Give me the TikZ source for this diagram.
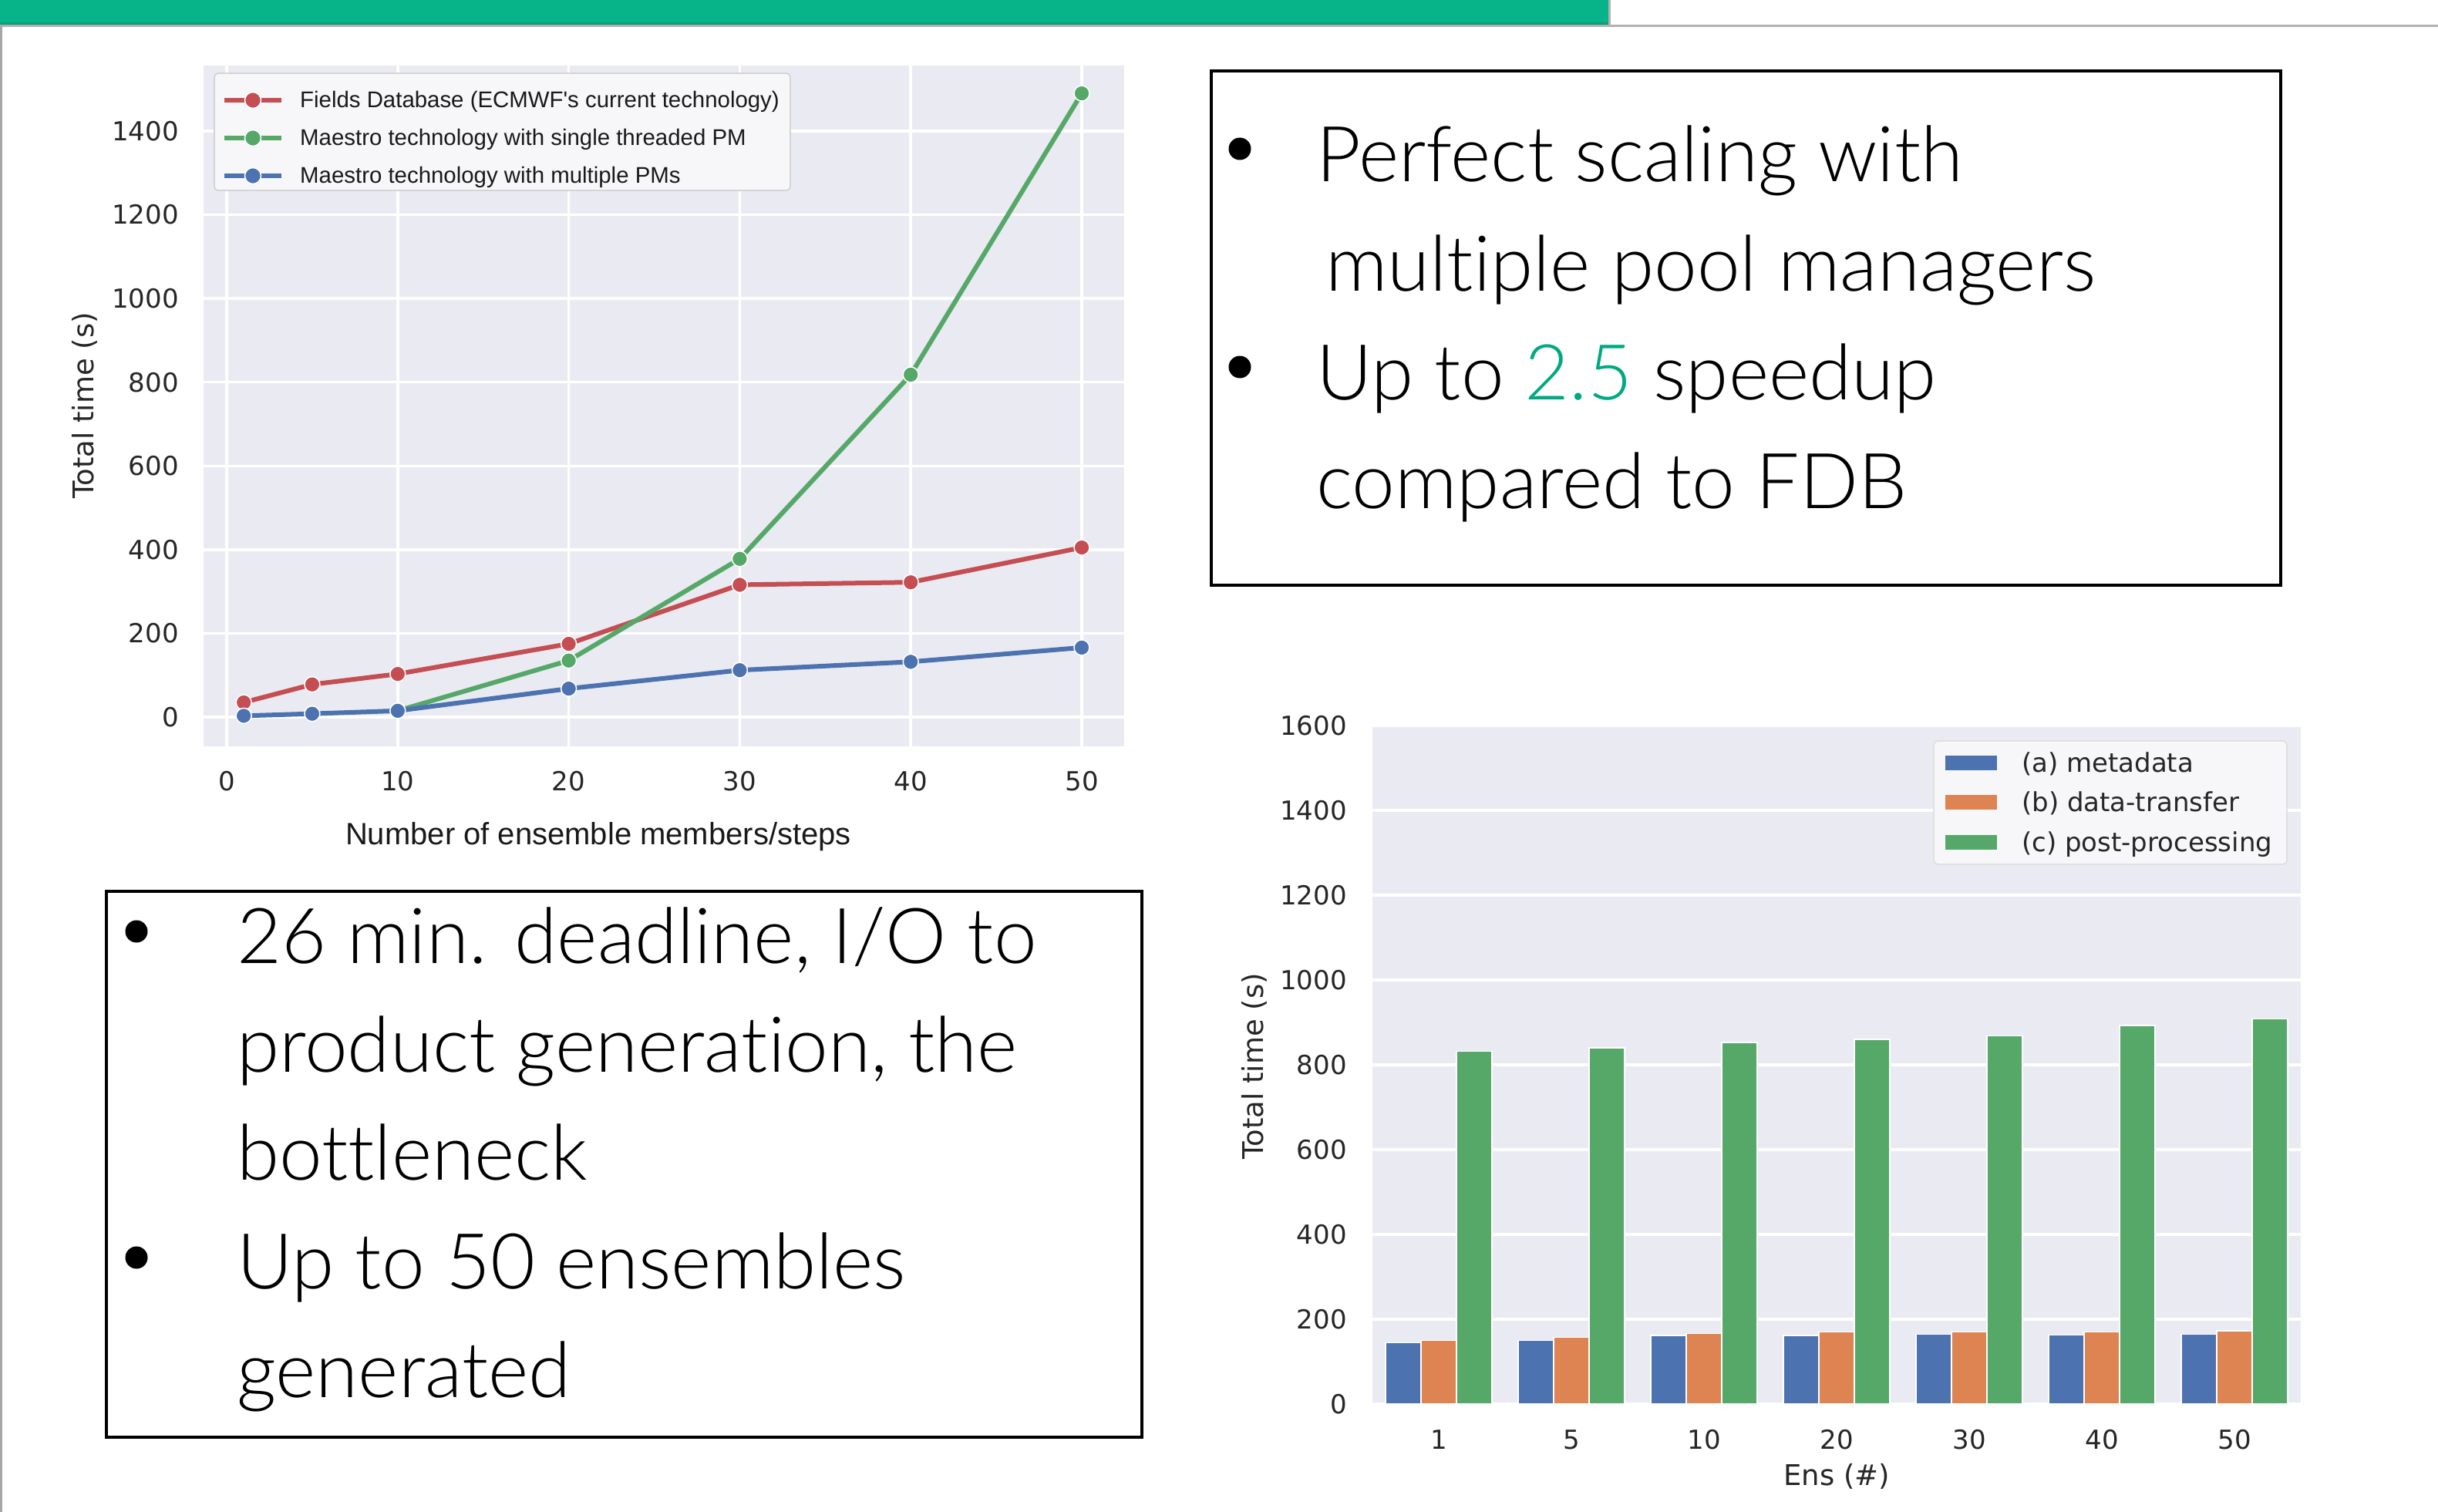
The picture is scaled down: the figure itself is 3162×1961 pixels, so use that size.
\documentclass[tikz,border=0pt]{standalone}
\usepackage{fontspec}
\newfontfamily\dejavu{DejaVu Sans}
\newfontfamily\arialf{Liberation Sans}
\IfFontExistsTF{Lato Light}{\newfontfamily\hpef{Lato Light}[Ligatures={NoCommon}]}{\newfontfamily\hpef{Lato}[Ligatures={NoCommon}]}
\definecolor{bgc}{HTML}{EAEAF2}
\definecolor{sred}{HTML}{C44E52}
\definecolor{sgreen}{HTML}{55A868}
\definecolor{sblue}{HTML}{4C72B0}
\definecolor{sorange}{HTML}{DD8452}
\definecolor{tickc}{HTML}{262626}
\definecolor{hpegreen}{HTML}{01A982}
\definecolor{barg}{HTML}{07B48A}
\definecolor{bardark}{HTML}{0A8A6C}
\begin{document}
\begin{tikzpicture}[x=1pt,y=-1pt,
  tickl/.style={font=\dejavu\fontsize{34}{40}\selectfont, text=tickc, inner sep=0pt},
  labl/.style={font=\dejavu\fontsize{37}{44}\selectfont, text=tickc, inner sep=0pt},
  arl/.style={font=\arialf\fontsize{40}{46}\selectfont, text=black!90, inner sep=0pt},
  legA/.style={font=\arialf\fontsize{29.4}{34}\selectfont, text=black!90, inner sep=0pt, anchor=base west},
  legB/.style={font=\dejavu\fontsize{34}{40}\selectfont, text=tickc, inner sep=0pt, anchor=base west},
  bigt/.style={font=\hpef\fontsize{100}{120}\selectfont, text=black, inner sep=0pt, anchor=base west},
  gridl/.style={draw=white, line width=3.5pt},
  series/.style={draw=#1, line width=6pt, line join=round, line cap=round},
  mk/.style={fill=#1, draw=white, line width=1.5pt},
  barb/.style={fill=#1, draw=white, line width=1.5pt},
  frame/.style={draw=black, line width=#1}
]
\useasboundingbox (0,0) rectangle (3162,1961);
\fill[white] (0,0) rectangle (3162,1961);

% ---------- top bar ----------
\fill[barg] (0,0) rectangle (2088,27);
\shade[top color=barg, bottom color=bardark] (0,27) rectangle (2088,33);
\fill[black!30] (2086,0) rectangle (2089,33);
\fill[black!30] (0,32) rectangle (3162,35);
\fill[black!35] (0,33) rectangle (3,1961);

% ---------- line chart ----------
\begin{scope}[shift={(294,930)}, x=22.18pt, y=0.5429pt]
  \fill[bgc] (-1.35,-70) rectangle (52.48,1556);
  \foreach \gx in {0,10,...,50} \draw[gridl] (\gx,-70) -- (\gx,1556);
  \foreach \gy in {0,200,...,1400} \draw[gridl] (-1.35,\gy) -- (52.48,\gy);
  % series
  \draw[series=sred] (1,35) -- (5,78) -- (10,103) -- (20,175) -- (30,316) -- (40,322) -- (50,405);
  \foreach \px/\py in {1/35,5/78,10/103,20/175,30/316,40/322,50/405}
    \filldraw[mk=sred] (\px,\py) circle[radius=10pt];
  \draw[series=sgreen] (10,15) -- (20,135) -- (30,378) -- (40,818) -- (50,1490);
  \foreach \px/\py in {10/15,20/135,30/378,40/818,50/1490}
    \filldraw[mk=sgreen] (\px,\py) circle[radius=10pt];
  \draw[series=sblue] (1,3) -- (5,8) -- (10,15) -- (20,68) -- (30,112) -- (40,132) -- (50,166);
  \foreach \px/\py in {1/3,5/8,10/15,20/68,30/112,40/132,50/166}
    \filldraw[mk=sblue] (\px,\py) circle[radius=10pt];
  % ticks
  \foreach \gy in {0,200,...,1400}
    \node[tickl, anchor=east] (ly\gy) at ([xshift=-32pt]-1.35,\gy) {\gy};
  \foreach \gx in {0,10,...,50}
    \node[tickl, anchor=center] (lx\gx) at ([yshift=-83pt]\gx,0) {\gx};
\end{scope}
\node[arl, anchor=base] (lxt) at (776,1095) {Number of ensemble members/steps};
\node[labl, rotate=90, anchor=center] (lyt) at (110,526) {Total time (s)};
% legend
\filldraw[fill=white!60!bgc, draw=black!17, line width=1.8pt, rounded corners=5pt] (278,95) rectangle (1025,247);
\foreach \ry/\col/\txt [count=\k] in {130/sred/{Fields Database (ECMWF's current technology)},
                                     179/sgreen/{Maestro technology with single threaded PM},
                                     228/sblue/{Maestro technology with multiple PMs}} {
  \draw[series=\col, line cap=butt, line width=5.5pt] (291,\ry) -- (365,\ry);
  \filldraw[mk=\col] (328,\ry) circle[radius=10.5pt];
  \node[legA] (lg\k) at (389,\ry+10) {\txt};
}

% ---------- bar chart ----------
\begin{scope}[shift={(1866,1821)}, x=172pt, y=0.55pt]
  \fill[bgc] (-0.5,0) rectangle (6.5,1600);
  \foreach \gy in {0,200,...,1600} \draw[gridl] (-0.5,\gy) -- (6.5,\gy);
  \foreach \b/\o/\g [count=\i from 0] in {145/150/832,150/157/840,162/166/853,162/170/860,165/170/868,163/170/893,165/173/908} {
    \filldraw[barb=sblue] (\i-0.4,0) rectangle (\i-0.1333,\b);
    \filldraw[barb=sorange] (\i-0.1333,0) rectangle (\i+0.1333,\o);
    \filldraw[barb=sgreen] (\i+0.1333,0) rectangle (\i+0.4,\g);
  }
  \foreach \gy in {0,200,...,1600}
    \node[tickl, anchor=east] (by\gy) at ([xshift=-33pt]-0.5,\gy) {\gy};
  \foreach \lab [count=\i from 0] in {1,5,10,20,30,40,50}
    \node[tickl, anchor=center] (bx\i) at ([yshift=-46pt]\i,0) {\lab};
\end{scope}
\node[labl, anchor=center] (bxt) at (2382,1915) {Ens (\#)};
\node[labl, rotate=90, anchor=center] (byt) at (1627,1383) {Total time (s)};
% legend
\filldraw[fill=white!60!bgc, draw=black!12, line width=1.8pt, rounded corners=5pt] (2508,961) rectangle (2966,1121);
\foreach \ry/\col/\txt [count=\k] in {989/sblue/{(a) metadata},1040/sorange/{(b) data-transfer},1092/sgreen/{(c) post-processing}} {
  \fill[\col] (2523,\ry-9.5) rectangle (2590,\ry+9.5);
  \node[legB] (bl\k) at (2622,\ry+12) {\txt};
}

% ---------- text box top right ----------
\draw[frame=4pt] (1571,92) rectangle (2958,759);
\fill (1608,193) circle[radius=14.5pt];
\fill (1608,476) circle[radius=14.5pt];
\node[bigt] (t1) at (1707,236) {Perfect scaling with};
\node[bigt] (t2) at (1719,377) {multiple pool managers};
\node[bigt] (t3) at (1707,518) {Up to {\color{hpegreen}2.5} speedup};
\node[bigt] (t4) at (1707,659) {compared to FDB};

% ---------- text box bottom left ----------
\draw[frame=3.5pt] (138,1156) rectangle (1481,1864);
\fill (177,1208) circle[radius=14.5pt];
\fill (177,1631) circle[radius=14.5pt];
\node[bigt] (u1) at (307,1249) {26 min. deadline, I/O to};
\node[bigt] (u2) at (307,1390) {product generation, the};
\node[bigt] (u3) at (307,1530) {bottleneck};
\node[bigt] (u4) at (307,1671) {Up to 50 ensembles};
\node[bigt] (u5) at (307,1812) {generated};
\end{tikzpicture}
\end{document}
